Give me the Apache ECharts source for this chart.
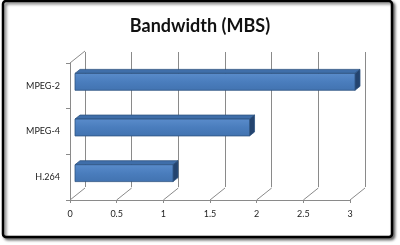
<!DOCTYPE html>
<html>
<head>
<meta charset="utf-8">
<script src="https://cdn.jsdelivr.net/npm/echarts@6/dist/echarts.min.js"></script>
<style>html,body{margin:0;padding:0;background:#fff;}#c{width:400px;height:245px;}</style>
</head>
<body>
<div id="c"></div>
<script>
var categories = ['H.264', 'MPEG-4', 'MPEG-2'];
var bandwidth = [1.05, 1.87, 3.0];
var xTicks = [0, 0.5, 1, 1.5, 2, 2.5, 3];

var DX = 15, DY = -12;          // depth of 3D box
var F1 = 1 / 3, F2 = 2 / 3;     // bar front/back depth fraction

var chart = echarts.init(document.getElementById('c'), null, {renderer: 'canvas'});

function barItem(params, api) {
  var v = api.value(0), c = api.value(1);
  var p0 = api.coord([0, c]), p1 = api.coord([v, c]);
  var band = api.size([0, 1])[1];
  var h = band * 0.37;
  var ox = DX * F1, oy = DY * F1, bx = DX * (F2 - F1), by = DY * (F2 - F1);
  var x0 = p0[0] + ox, x1 = p1[0] + ox;
  var yT = p0[1] + oy - h / 2, yB = p0[1] + oy + h / 2;
  var stroke = '#2f5482';
  return {
    type: 'group',
    children: [
      {type: 'polygon', shape: {points: [[x0, yT], [x1, yT], [x1 + bx, yT + by], [x0 + bx, yT + by]]},
        style: {fill: '#3f6ea9', stroke: stroke, lineWidth: 0.8}},
      {type: 'polygon', shape: {points: [[x1, yT], [x1 + bx, yT + by], [x1 + bx, yB + by], [x1, yB]]},
        style: {fill: '#24446f', stroke: stroke, lineWidth: 0.8}},
      {type: 'rect', shape: {x: x0, y: yT, width: x1 - x0, height: yB - yT},
        style: {fill: {type: 'linear', x: 0, y: 0, x2: 0, y2: 1, colorStops: [
          {offset: 0, color: '#5a8ccb'}, {offset: 0.5, color: '#4a7dbd'}, {offset: 1, color: '#4273b0'}]},
          stroke: stroke, lineWidth: 0.8}}
    ]
  };
}

// diagonal edges of the 3D floor/wall: value [x, category, side] side=+1 bottom edge, -1 top edge
function diagItem(params, api) {
  var v = api.value(0), c = api.value(1), side = api.value(2);
  var p = api.coord([v, c]);
  var band = api.size([0, 1])[1];
  var y = p[1] + side * band / 2;
  return {type: 'line', shape: {x1: p[0], y1: y, x2: p[0] + DX, y2: y + DY},
    style: {stroke: '#8a8a8a', lineWidth: 1}};
}

var diagData = xTicks.map(function (t) { return [t, 0, 1]; });
diagData.push([0, categories.length - 1, -1]);

chart.setOption({
  animation: false,
  backgroundColor: '#fff',
  title: {
    text: 'Bandwidth (MBS)', left: 'center', top: 12,
    textStyle: {fontFamily: 'Lato', fontWeight: 'bold', fontSize: 18, color: '#111'}
  },
  graphic: [{
    type: 'rect', z: -10, silent: true,
    shape: {x: 3, y: 1, width: 389, height: 236, r: 3},
    style: {fill: '#fff', stroke: '#000', lineWidth: 2.5,
      shadowBlur: 3, shadowOffsetX: 2, shadowOffsetY: 2, shadowColor: 'rgba(0,0,0,0.55)'}
  }],
  grid: [
    {left: 70, right: 50, top: 63, bottom: 45},
    {left: 85, right: 35, top: 52, bottom: 58}
  ],
  xAxis: [
    {type: 'value', gridIndex: 0, min: 0, max: 3, interval: 0.5,
      axisLine: {show: true, lineStyle: {color: '#8a8a8a', width: 1}},
      axisTick: {show: true, length: 3, lineStyle: {color: '#8a8a8a'}},
      axisLabel: {margin: 10, fontFamily: 'Lato', fontSize: 9, color: '#222'},
      splitLine: {show: false}},
    {type: 'value', gridIndex: 1, min: 0, max: 3, interval: 0.5,
      axisLine: {show: false}, axisTick: {show: false}, axisLabel: {show: false},
      splitLine: {show: true, lineStyle: {color: '#8a8a8a', width: 1}}}
  ],
  yAxis: [
    {type: 'category', gridIndex: 0, data: categories,
      axisLine: {show: true, lineStyle: {color: '#8a8a8a', width: 1}},
      axisTick: {show: true, length: 4, lineStyle: {color: '#8a8a8a'}},
      axisLabel: {margin: 10, fontFamily: 'Lato', fontSize: 9, color: '#222'},
      splitLine: {show: false}},
    {type: 'category', gridIndex: 1, data: categories, show: false}
  ],
  series: [
    {type: 'custom', xAxisIndex: 0, yAxisIndex: 0, renderItem: diagItem, data: diagData, z: 1, silent: true, clip: false},
    {type: 'custom', xAxisIndex: 0, yAxisIndex: 0, renderItem: barItem,
      data: bandwidth.map(function (v, i) { return [v, i]; }), z: 5}
  ]
});
</script>
</body>
</html>
